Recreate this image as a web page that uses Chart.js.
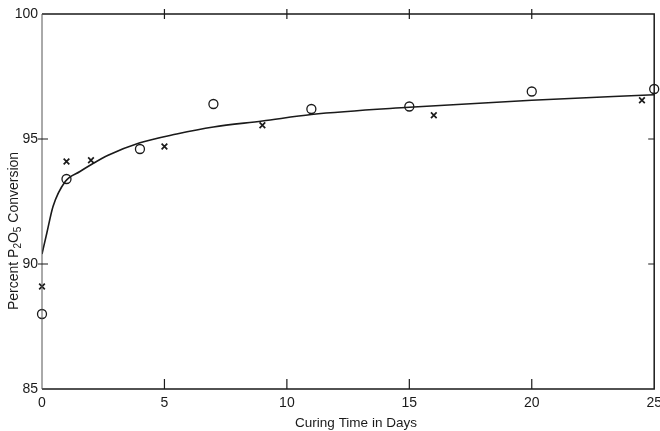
<!DOCTYPE html>
<html>
<head>
<meta charset="utf-8">
<script src="https://cdn.jsdelivr.net/npm/chart.js@4"></script>
<style>
  html, body { margin: 0; padding: 0; background: #fff; }
  #wrap { width: 660px; height: 431px; }
</style>
</head>
<body>
<div id="wrap"><canvas id="cure-chart"></canvas></div>
<script>
// values
const circleDays = [0, 1, 4, 7, 11, 15, 20, 25];
const circleVals = [88.0, 93.4, 94.6, 96.4, 96.2, 96.3, 96.9, 97.0];
const crossDays = [0, 1, 2, 5, 9, 16, 24.5];
const crossVals = [89.1, 94.1, 94.15, 94.7, 95.55, 95.95, 96.55];
const curveDays = [0, 0.2, 0.45, 0.95, 1.55, 2.05, 2.7, 4, 5.5, 7, 9, 11, 15, 20, 25];
const curveVals = [90.4, 91.25, 92.3, 93.3, 93.7, 94.0, 94.35, 94.85, 95.2, 95.48, 95.72, 95.98, 96.27, 96.55, 96.77];
const xTickVals = [0, 5, 10, 15, 20, 25];
const yTickVals = [85, 90, 95, 100];

const ink = '#1a1a1a';
const pts = (xs, ys) => xs.map((v, i) => ({ x: v, y: ys[i] }));

// frame, little tick marks and the two axis titles
const frame = {
    id: 'frame',
    afterDraw(chart) {
        const { ctx, chartArea: a, scales: { x, y } } = chart;
        ctx.save();
        ctx.strokeStyle = ink;
        ctx.lineWidth = 1.5;
        ctx.beginPath();
        ctx.moveTo(a.left, a.top); ctx.lineTo(a.right, a.top); ctx.lineTo(a.right, a.bottom); ctx.lineTo(a.left, a.bottom);
        ctx.stroke();
        ctx.lineWidth = 1;
        ctx.strokeStyle = '#555';
        ctx.beginPath(); ctx.moveTo(a.left, a.top); ctx.lineTo(a.left, a.bottom); ctx.stroke();

        ctx.strokeStyle = ink;
        ctx.lineWidth = 1.2;
        ctx.beginPath();
        xTickVals.slice(1, -1).forEach(v => {
            const px = x.getPixelForValue(v);
            ctx.moveTo(px, a.top - 5); ctx.lineTo(px, a.top + 5);
            ctx.moveTo(px, a.bottom); ctx.lineTo(px, a.bottom - 10);
        });
        yTickVals.slice(1, -1).forEach(v => {
            const py = y.getPixelForValue(v);
            ctx.moveTo(a.left - 4, py); ctx.lineTo(a.left + 6, py);
            ctx.moveTo(a.right, py); ctx.lineTo(a.right - 6, py);
        });
        ctx.stroke();

        ctx.fillStyle = ink;
        ctx.textBaseline = 'alphabetic';
        ctx.font = '13.5px "Liberation Sans", Arial, sans-serif';
        ctx.textAlign = 'center';
        ctx.fillText('Curing Time in Days', 356, 427);

        // y title with subscripts
        const parts = [['Percent P', 0], ['2', 1], ['O', 0], ['5', 1], [' Conversion', 0]];
        const big = '14px "Liberation Sans", Arial, sans-serif';
        const small = '10px "Liberation Sans", Arial, sans-serif';
        let total = 0;
        parts.forEach(p => { ctx.font = p[1] ? small : big; total += ctx.measureText(p[0]).width; });
        ctx.translate(13, 231);
        ctx.rotate(-Math.PI / 2);
        ctx.textAlign = 'left';
        let cx = -total / 2;
        parts.forEach(p => {
            ctx.font = p[1] ? small : big;
            ctx.fillText(p[0], cx, p[1] ? 8 : 5);
            cx += ctx.measureText(p[0]).width;
        });
        ctx.restore();
    }
};

const noPad = s => { s.paddingLeft = 0; s.paddingRight = 0; s.paddingTop = 0; s.paddingBottom = 0; };

new Chart(document.getElementById('cure-chart'), {
    type: 'scatter',
    data: {
        datasets: [
            { label: 'curve', type: 'line', data: pts(curveDays, curveVals), borderColor: ink, borderWidth: 1.6,
              pointRadius: 0, cubicInterpolationMode: 'monotone', fill: false },
            { label: 'circles', data: pts(circleDays, circleVals), pointStyle: 'circle', pointRadius: 4.5,
              borderColor: ink, borderWidth: 1.3, backgroundColor: 'rgba(0,0,0,0)', clip: false },
            { label: 'crosses', data: pts(crossDays, crossVals), pointStyle: 'crossRot', pointRadius: 4,
              borderColor: ink, borderWidth: 1.7, clip: false }
        ]
    },
    options: {
        responsive: true,
        maintainAspectRatio: false,
        animation: false,
        layout: { padding: { top: 14, right: 4, left: 0, bottom: 0 } },
        plugins: { legend: { display: false }, tooltip: { enabled: false } },
        scales: {
            x: {
                type: 'linear', min: 0, max: 25,
                afterFit: s => { s.height = 42; noPad(s); },
                afterBuildTicks: s => { s.ticks = xTickVals.map(v => ({ value: v })); },
                grid: { display: false, drawTicks: false },
                border: { display: false },
                ticks: { color: ink, padding: 6, font: { family: '"Liberation Sans", Arial, sans-serif', size: 14 } }
            },
            y: {
                type: 'linear', min: 85, max: 100,
                afterFit: s => { s.width = 42; noPad(s); },
                afterBuildTicks: s => { s.ticks = yTickVals.map(v => ({ value: v })); },
                grid: { display: false, drawTicks: false },
                border: { display: false },
                ticks: { color: ink, padding: 4, font: { family: '"Liberation Sans", Arial, sans-serif', size: 14 } }
            }
        }
    },
    plugins: [frame]
});
</script>
</body>
</html>
